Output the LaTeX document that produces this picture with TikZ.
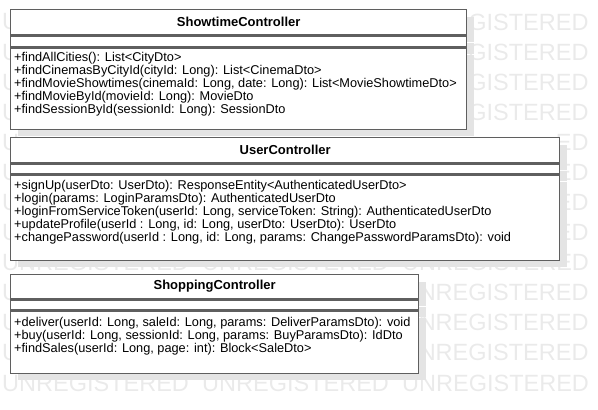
\documentclass[tikz,border=0pt]{standalone}
\usepackage{fontspec}
\setmainfont{Liberation Sans}
\usetikzlibrary{positioning,shadows}
\definecolor{linegray}{HTML}{5F5F5F}
\definecolor{markgray}{HTML}{EAEAEA}
\definecolor{shadowgray}{HTML}{E4E4E4}

\begin{document}
\begin{tikzpicture}[x=1pt,y=-1pt,
    watermark/.style ={anchor=west, inner sep=0, text=markgray, font=\fontsize{23.5}{24}\selectfont},
    markend/.style ={watermark, anchor=east},
    compartment/.style ={rectangle, draw=linegray, line width=1.3pt, fill=white, inner sep=0,
       general shadow={fill=shadowgray, shadow xshift=7pt, shadow yshift=-7pt}},
    classname/.style ={compartment, font=\bfseries\fontsize{13}{15}\selectfont, minimum height=25pt},
    attributes/.style ={compartment, minimum height=10pt},
    methods/.style ={align=left, anchor=north west, inner sep=0, font=\fontsize{12.75}{13.1}\selectfont}]
   \useasboundingbox (0,0) rectangle (598,410);
   % watermark: whole rows in the gaps, the visible ends beside the boxes
   \foreach \r in {8,12}
      \foreach \c in {0,1,2}
         \node[watermark] (mark\r\c) at (2+200*\c, 22+30.08*\r) {UNREGISTERED};
   \foreach \r in {0,1,2,3,4,5,6,7,9,10,11}
      \node[watermark] (markl\r) at (2, 22+30.08*\r) {U};
   \foreach \r in {0,...,3}
      \node[markend] (markr\r) at (588.7, 22+30.08*\r) {GISTERED};
   \foreach \r in {4,5,6,7}
      \node[markend] (markr\r) at (588.7, 22+30.08*\r) {ED};
   \foreach \r in {9,10,11}
      \node[markend] (markr\r) at (588.7, 22+30.08*\r) {NREGISTERED};
   % ShowtimeController
   \node[classname, minimum width=456pt, anchor=north west] (showtime) at (10,9) {ShowtimeController};
   \node[attributes, minimum width=456pt, minimum height=11pt, below=0pt of showtime] (showtimeattr) {};
   \node[compartment, minimum width=456pt, minimum height=81pt, below=0pt of showtimeattr] (showtimeops) {};
   \node[methods] (showtimetext) at ([xshift=4pt,yshift=-4pt]showtimeops.north west)
      {+findAllCities(): List<CityDto>\\
       +findCinemasByCityId(cityId: Long): List<CinemaDto>\\
       +findMovieShowtimes(cinemaId: Long, date: Long): List<MovieShowtimeDto>\\
       +findMovieById(movieId: Long): MovieDto\\
       +findSessionById(sessionId: Long): SessionDto};
   % UserController
   \node[classname, minimum width=549pt, anchor=north west] (user) at (10,137) {UserController};
   \node[attributes, minimum width=549pt, below=0pt of user] (userattr) {};
   \node[compartment, minimum width=549pt, minimum height=85pt, below=0pt of userattr] (userops) {};
   \node[methods] (usertext) at ([xshift=4pt,yshift=-5pt]userops.north west)
      {+signUp(userDto: UserDto): ResponseEntity<AuthenticatedUserDto>\\
       +login(params: LoginParamsDto): AuthenticatedUserDto\\
       +loginFromServiceToken(userId: Long, serviceToken: String): AuthenticatedUserDto\\
       +updateProfile(userId : Long, id: Long, userDto: UserDto): UserDto\\
       +changePassword(userId : Long, id: Long, params: ChangePasswordParamsDto): void};
   % ShoppingController
   \node[classname, minimum width=408pt, minimum height=24pt, anchor=north west] (shopping) at (10,274) {ShoppingController};
   \node[attributes, minimum width=408pt, below=0pt of shopping] (shoppingattr) {};
   \node[compartment, minimum width=408pt, minimum height=62pt, below=0pt of shoppingattr] (shoppingops) {};
   \node[methods] (shoppingtext) at ([xshift=4pt,yshift=-6pt]shoppingops.north west)
      {+deliver(userId: Long, saleId: Long, params: DeliverParamsDto): void\\
       +buy(userId: Long, sessionId: Long, params: BuyParamsDto): IdDto\\
       +findSales(userId: Long, page: int): Block<SaleDto>};
\end{tikzpicture}
\end{document}
